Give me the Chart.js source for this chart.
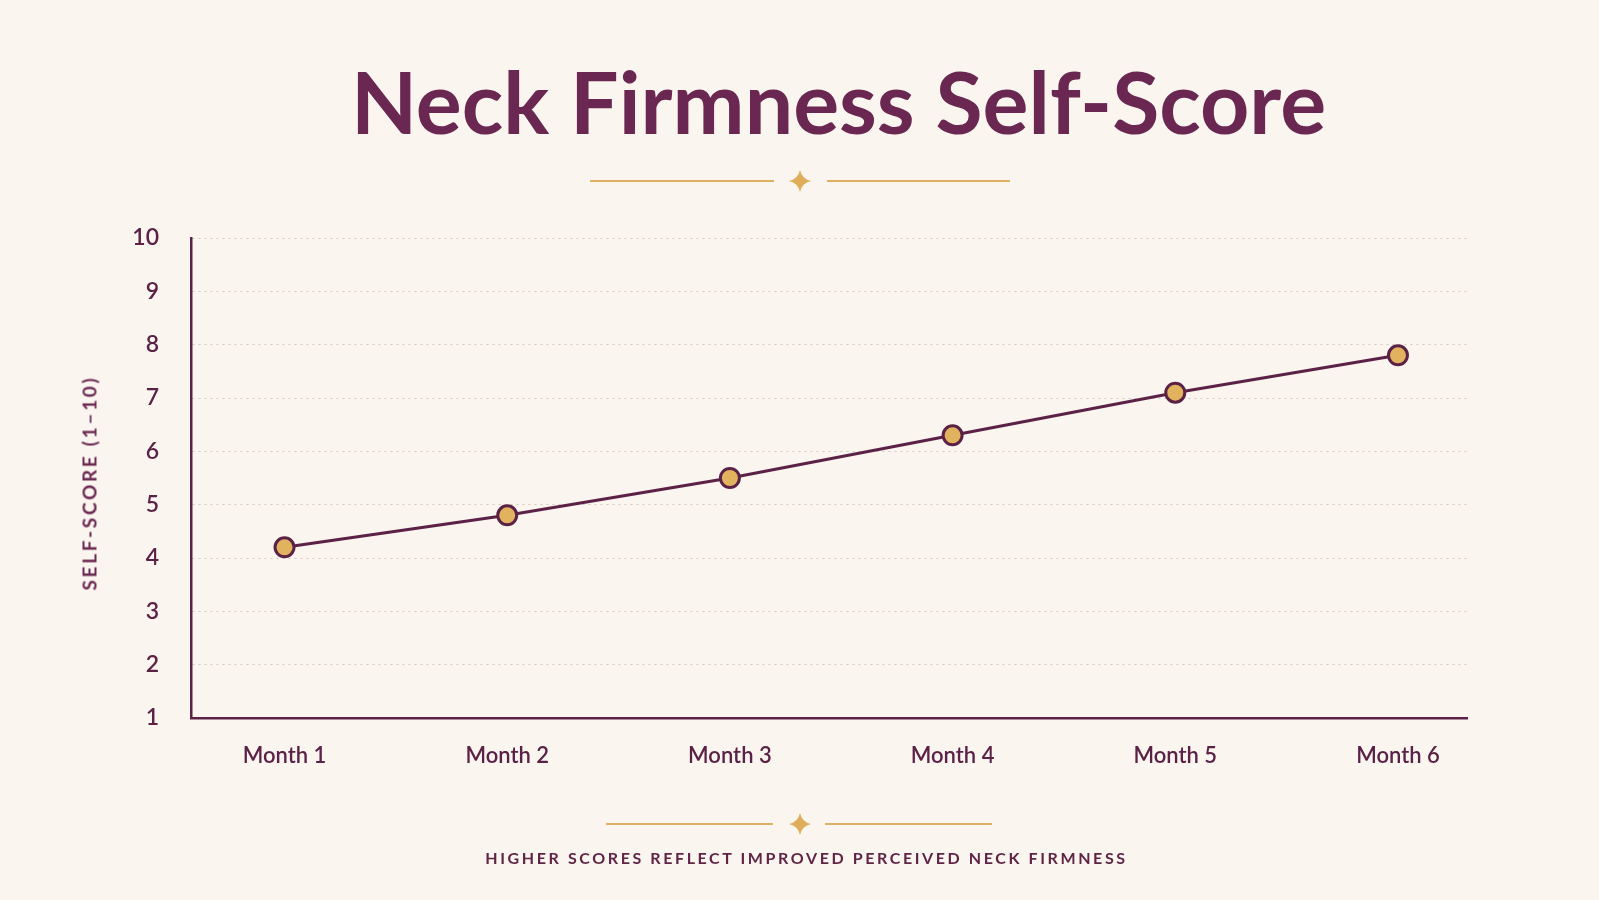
<!DOCTYPE html>
<html>
<head>
<meta charset="utf-8">
<title>Neck Firmness Self-Score</title>
<script src="https://cdn.jsdelivr.net/npm/chart.js@4.4.1/dist/chart.umd.min.js"></script>
<style>
    html, body {
        margin: 0;
        padding: 0;
        width: 1599px;
        height: 900px;
        overflow: hidden;
        background: #faf5ef;
        font-family: 'Lato', sans-serif;
    }
    #wrap {
        position: relative;
        width: 1599px;
        height: 900px;
    }
    #chart {
        position: absolute;
        left: 0;
        top: 0;
    }
    h1 {
        position: absolute;
        left: 0;
        width: 1599px;
        top: 58px;
        margin: 0;
        text-align: center;
        font-size: 86px;
        font-weight: 700;
        color: #6a2751;
        line-height: 1;
        padding-left: 78px;
        box-sizing: border-box;
    }
    .ornament {
        position: absolute;
        left: 0;
    }
    #y-title {
        position: absolute;
        left: 89px;
        top: 483px;
        transform: translate(-50%, -50%) rotate(-90deg);
        white-space: nowrap;
        font-size: 19px;
        font-weight: 700;
        letter-spacing: 2.7px;
        color: #6a2751;
    }
    #footer {
        position: absolute;
        left: 0;
        width: 1599px;
        top: 848px;
        margin: 0;
        text-align: center;
        font-size: 16px;
        font-weight: 700;
        letter-spacing: 2.6px;
        color: #622446;
        padding-left: 14px;
        box-sizing: border-box;
    }
</style>
</head>
<body>
<div id="wrap">
    <h1>Neck Firmness Self-Score</h1>
    <svg class="ornament" style="top:166px" width="1599" height="30">
        <line x1="590" y1="15" x2="774" y2="15" stroke="#e0b062" stroke-width="2.2"/>
        <line x1="827" y1="15" x2="1010" y2="15" stroke="#e0b062" stroke-width="2.2"/>
        <path d="M800,4 Q802,13 811,15 Q802,17 800,26 Q798,17 789,15 Q798,13 800,4 Z" fill="#e0ad5a"/>
    </svg>
    <canvas id="chart" width="1599" height="900"></canvas>
    <div id="y-title">SELF-SCORE (1–10)</div>
    <svg class="ornament" style="top:809px" width="1599" height="30">
        <line x1="606" y1="15" x2="773" y2="15" stroke="#e0b062" stroke-width="2.2"/>
        <line x1="825" y1="15" x2="992" y2="15" stroke="#e0b062" stroke-width="2.2"/>
        <path d="M800,4 Q802,13 811,15 Q802,17 800,26 Q798,17 789,15 Q798,13 800,4 Z" fill="#e0ad5a"/>
    </svg>
    <div id="footer">HIGHER SCORES REFLECT IMPROVED PERCEIVED NECK FIRMNESS</div>
</div>

<script>
// chart data
const months = ['Month 1', 'Month 2', 'Month 3', 'Month 4', 'Month 5', 'Month 6'];
const scores = [4.2, 4.8, 5.5, 6.3, 7.1, 7.8];
const yTicks = [1, 2, 3, 4, 5, 6, 7, 8, 9, 10];

const plum = '#5c2146';
const gold = '#e2b35e';

const points = months.map((m, i) => ({ x: i + 1, y: scores[i] }));

const ctx = document.getElementById('chart').getContext('2d');

new Chart(ctx, {
    type: 'line',
    data: {
        datasets: [{
            label: 'Self-score',
            data: points,
            borderColor: plum,
            borderWidth: 3,
            backgroundColor: gold,
            pointBackgroundColor: gold,
            pointBorderColor: plum,
            pointBorderWidth: 3,
            pointRadius: 9.5,
            fill: false,
            tension: 0
        }]
    },
    options: {
        responsive: false,
        animation: false,
        layout: {
            padding: { top: 238, right: 132, bottom: 122, left: 0 }
        },
        plugins: {
            legend: { display: false },
            tooltip: { enabled: false }
        },
        scales: {
            x: {
                type: 'linear',
                min: 0.58,
                max: 6.31,
                afterBuildTicks: (scale) => {
                    scale.ticks = months.map((m, i) => ({ value: i + 1 }));
                },
                afterFit: (scale) => { scale.height = 60; },
                grid: { display: false },
                border: { display: true, color: plum, width: 2.5 },
                ticks: {
                    autoSkip: false,
                    maxRotation: 0,
                    padding: 17,
                    color: plum,
                    font: { family: "'Lato', sans-serif", size: 22, weight: '600' },
                    callback: (value) => months[value - 1]
                }
            },
            y: {
                min: 1,
                max: 10,
                afterBuildTicks: (scale) => {
                    scale.ticks = yTicks.map(v => ({ value: v }));
                },
                afterFit: (scale) => { scale.width = 191; },
                grid: {
                    color: '#d3c9c0',
                    lineWidth: 1,
                    drawTicks: false
                },
                border: { display: true, color: plum, width: 2.5, dash: [2, 4] },
                ticks: {
                    padding: 32,
                    color: plum,
                    font: { family: "'Lato', sans-serif", size: 23, weight: '600' }
                }
            }
        }
    }
});
</script>
</body>
</html>
